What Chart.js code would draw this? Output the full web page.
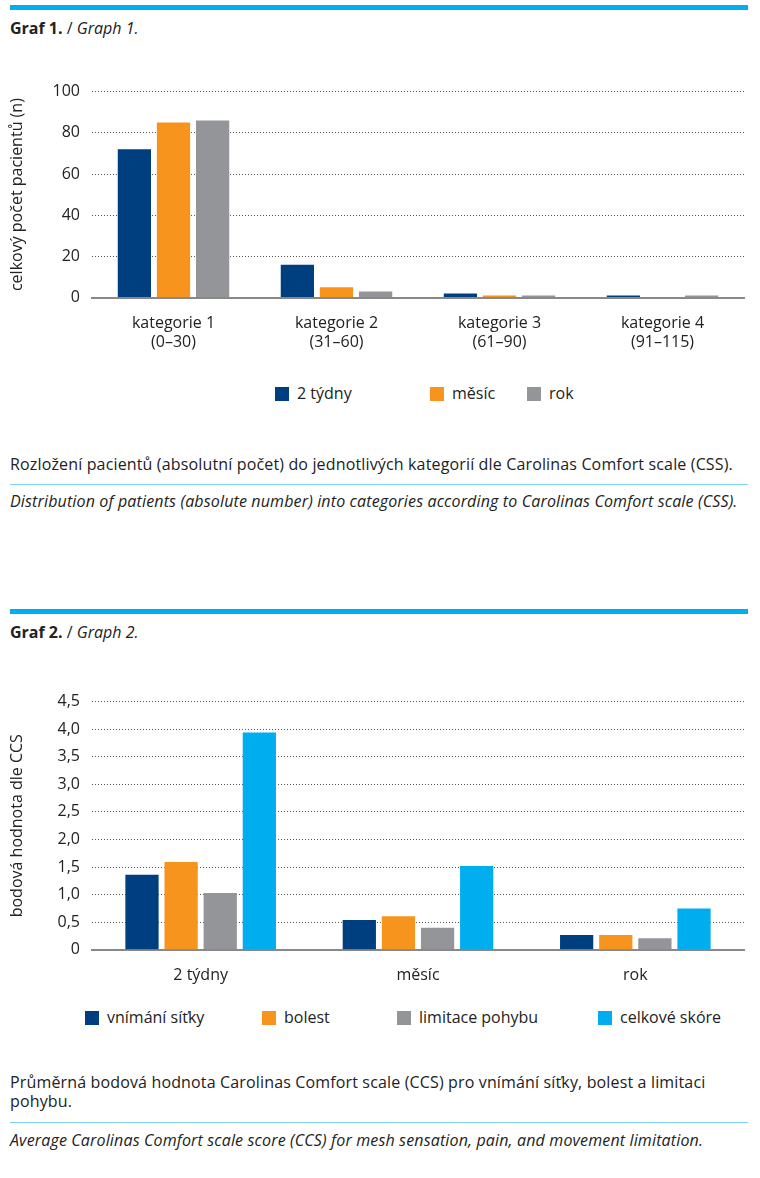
<!DOCTYPE html>
<html><head><meta charset="utf-8">
<script src="https://cdn.jsdelivr.net/npm/chart.js@4"></script>
<style>
body{margin:0;width:760px;height:1178px;background:#fff;font-family:"Open Sans",sans-serif;color:#222;position:relative;overflow:hidden}
.bar{position:absolute;left:10px;width:738px;height:5px;background:#00aeef}
.title{position:absolute;left:10px;font-size:16px}
.cap{position:absolute;left:10px;width:735px;font-size:16px;line-height:19px;letter-spacing:0.15px}
.line{position:absolute;left:10px;width:738px;height:1px;background:#7fd3f2}
.cv{position:absolute;left:0;width:760px}
.lg{position:absolute;font-size:16px;line-height:16px}
.lg span{display:inline-block;width:14px;height:14px;vertical-align:-2px;margin-right:8px}
</style></head><body>
<div class="bar" style="top:5px"></div>
<div class="title" style="top:17px"><b>Graf 1.</b> / <i>Graph 1.</i></div>
<div class="cv" style="top:70px;height:290px"><canvas id="c1"></canvas></div>
<div id="lg1"></div>
<div class="cap" style="top:455px">Rozložení pacientů (absolutní počet) do jednotlivých kategorií dle Carolinas Comfort scale (CSS).</div>
<div class="line" style="top:484px"></div>
<div class="cap" style="top:492px"><i>Distribution of patients (absolute number) into categories according to Carolinas Comfort scale (CSS).</i></div>
<div class="bar" style="top:609px"></div>
<div class="title" style="top:621px"><b>Graf 2.</b> / <i>Graph 2.</i></div>
<div class="cv" style="top:680px;height:313px"><canvas id="c2"></canvas></div>
<div id="lg2"></div>
<div class="cap" style="top:1073px">Průměrná bodová hodnota Carolinas Comfort scale (CCS) pro vnímání síťky, bolest a limitaci pohybu.</div>
<div class="line" style="top:1122px"></div>
<div class="cap" style="top:1131px"><i>Average Carolinas Comfort scale score (CCS) for mesh sensation, pain, and movement limitation.</i></div>
<script>
const cats1=[["kategorie 1","(0–30)"],["kategorie 2","(31–60)"],["kategorie 3","(61–90)"],["kategorie 4","(91–115)"]];
const series1=["2 týdny","měsíc","rok"];
const s2tydny=[72,16,2,1];
const smesic=[85,5,1,0];
const srok=[86,3,1,1];
const cats2=["2 týdny","měsíc","rok"];
const series2=["vnímání síťky","bolest","limitace pohybu","celkové skóre"];
const vnimani=[1.36,0.54,0.27];
const bolest=[1.59,0.61,0.27];
const limitace=[1.03,0.40,0.21];
const celkove=[3.94,1.52,0.75];
const C=["#003f7f","#f7941d","#939598","#00aeef"];
const F="'Open Sans',sans-serif";
Chart.defaults.font.family=F;Chart.defaults.color="#222";
function opts(ymax,step,ytitle,fmt,padTop){return{responsive:true,maintainAspectRatio:false,animation:false,
layout:{padding:{top:padTop,right:16,left:8}},
plugins:{legend:{display:false},tooltip:{enabled:false}},
datasets:{bar:{categoryPercentage:0.72,barPercentage:0.85}},
scales:{x:{grid:{display:false},border:{color:'#888',width:2},ticks:{font:{size:16},padding:8}},
y:{min:0,max:ymax,afterFit:s=>{s.width=84},ticks:{stepSize:step,font:{size:16},padding:12,callback:fmt},
border:{display:false,dash:[1,2]},grid:{color:'#555',lineWidth:1,drawTicks:false},
title:{display:true,text:ytitle,font:{size:16},padding:0}}}}}
function legend(id,names,xs,y){const d=document.getElementById(id);
names.forEach((n,i)=>{const e=document.createElement('div');e.className='lg';e.style.left=xs[i]+'px';e.style.top=y+'px';
e.innerHTML='<span style="background:'+C[i]+'"></span>'+n;d.appendChild(e);});}
new Chart(document.getElementById('c1'),{type:'bar',data:{labels:cats1,datasets:[
{label:series1[0],data:s2tydny,backgroundColor:C[0]},{label:series1[1],data:smesic,backgroundColor:C[1]},{label:series1[2],data:srok,backgroundColor:C[2]}]},
options:opts(100,20,'celkový počet pacientů (n)',v=>v,14)});
legend('lg1',series1,[275,430,527],385);
const o2=opts(4.5,0.5,'bodová hodnota dle CCS',v=>v===0?'0':v.toFixed(1).replace('.',','),12);
new Chart(document.getElementById('c2'),{type:'bar',data:{labels:cats2,datasets:[
{label:series2[0],data:vnimani,backgroundColor:C[0]},{label:series2[1],data:bolest,backgroundColor:C[1]},{label:series2[2],data:limitace,backgroundColor:C[2]},{label:series2[3],data:celkove,backgroundColor:C[3]}]},
options:o2});
legend('lg2',series2,[85,262,397,598],1009);
</script></body></html>
